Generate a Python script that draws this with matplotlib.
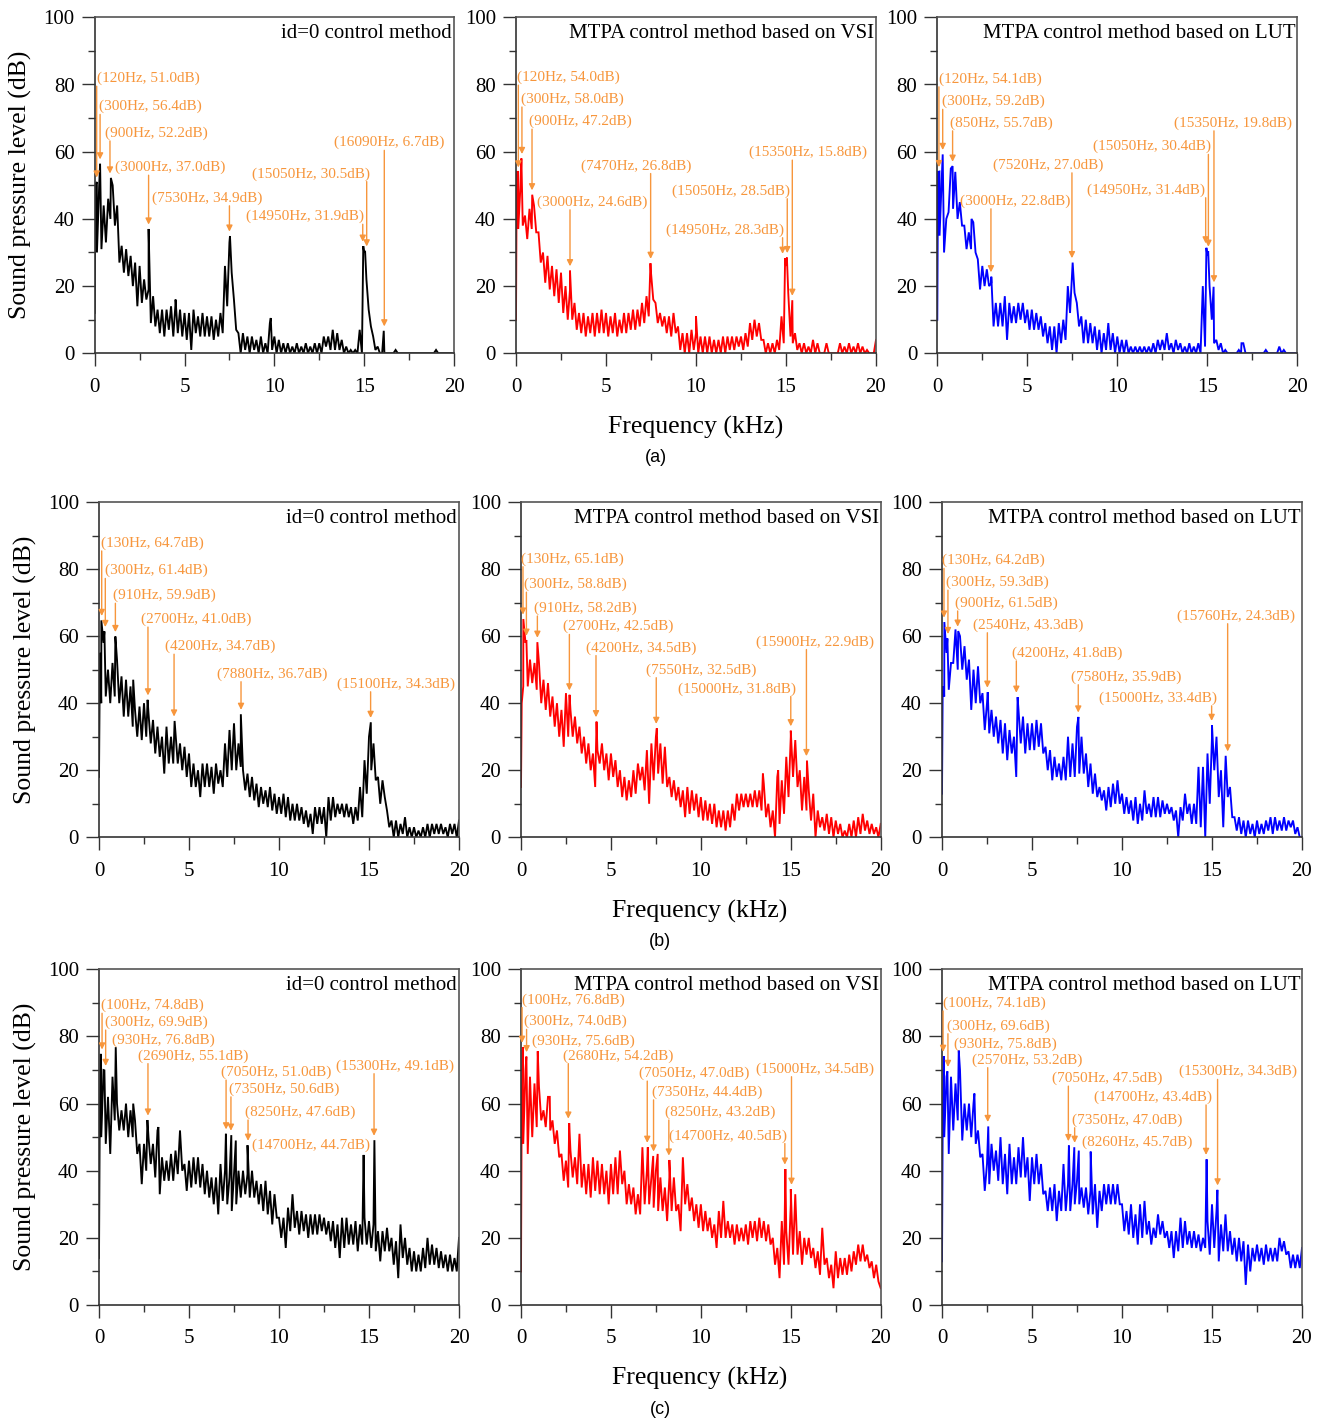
import numpy as np
import matplotlib
matplotlib.use("Agg")
import matplotlib.pyplot as plt
from matplotlib.ticker import MultipleLocator

plt.rcParams['font.family'] = ['Liberation Serif', 'DejaVu Serif']

# ---------------------------------------------------------------- data
# Spectra sampled every 0.25 kHz: "hi" = upper edge of noise band at f,
# "lo" = lower edge at f + 0.125 kHz (values in dB read from the figure)
GRID_STEP_KHZ = 0.25

# ---- row (a)
a1_hi = [12, 50, 44, 46, 50, 44, 32, 31, 29, 27,
         26, 22, 19, 17, 13, 13, 13, 14, 15, 13,
         12, 12, 13, 11, 12, 11, 11, 10, 12, 26,
         33, 16, 6, 6, 5, 5, 4, 5, 3, 9,
         5, 4, 3, 3, 2, 3, 2, 3, 2, 3,
         3, 5, 5, 7, 6, 4, 2, 1, 1, 7,
         30, 13, 5, 2, 0, 0, 0, 1, 0, 0,
         0, 0, 0, 0, 0, 0, 1, 0, 0, 0]
a1_lo = [30, 31, 33, 40, 38, 27, 24, 23, 20, 14,
         15, 16, 9, 8, 6, 5, 7, 5, 6, 5,
         4, 1, 6, 5, 5, 5, 4, 5, 6, 14,
         24, 7, 0, 1, 0, 1, 0, 0, 0, 1,
         0, 0, 0, 0, 0, 0, 0, 0, 0, 0,
         0, 2, 1, 1, 1, 0, 0, 0, 0, 0,
         22, 8, 1, 0, 0, 0, 0, 0, 0, 0,
         0, 0, 0, 0, 0, 0, 0, 0, 0, 0]
a1_peak_hz = [120, 300, 900, 3000, 7530, 15050, 14950, 16090]
a1_peak_db = [51.0, 56.4, 52.2, 37.0, 34.9, 30.5, 31.9, 6.7]
a1_extra_khz = [0.03, 4.5, 9.8]
a1_extra_db = [50, 16, 10.5]

a2_hi = [10, 50, 41, 43, 44, 36, 30, 29, 26, 25,
         24, 20, 19, 15, 12, 12, 11, 12, 12, 13,
         12, 11, 12, 10, 12, 12, 13, 13, 15, 17,
         24, 15, 12, 11, 11, 12, 8, 6, 6, 7,
         6, 5, 5, 5, 4, 4, 5, 5, 5, 5,
         5, 6, 9, 10, 9, 4, 3, 3, 4, 11,
         26, 5, 6, 3, 3, 2, 4, 3, 0, 3,
         0, 0, 3, 2, 3, 2, 3, 2, 1, 0]
a2_lo = [37, 38, 34, 37, 36, 27, 21, 19, 17, 15,
         12, 10, 10, 7, 6, 5, 6, 5, 6, 6,
         5, 6, 5, 6, 6, 7, 7, 8, 9, 11,
         16, 9, 8, 6, 5, 6, 1, 0, 0, 1,
         0, 0, 0, 0, 0, 0, 0, 1, 1, 2,
         1, 2, 4, 5, 4, 0, 0, 0, 1, 3,
         18, 3, 1, 0, 0, 0, 0, 0, 0, 0,
         0, 0, 0, 0, 0, 0, 0, 0, 0, 0]
a2_peak_hz = [120, 300, 900, 3000, 7470, 15350, 15050, 14950]
a2_peak_db = [54.0, 58.0, 47.2, 24.6, 26.8, 15.8, 28.5, 28.3]
a2_extra_khz = [0.04, 10.0, 20.0]
a2_extra_db = [54, 11, 4]

a3_hi = [10, 52, 40, 55, 54, 45, 38, 36, 39, 28,
         26, 25, 21, 15, 15, 17, 15, 14, 15, 15,
         13, 13, 12, 11, 9, 8, 8, 9, 10, 20,
         25, 15, 11, 10, 9, 8, 7, 6, 9, 6,
         5, 4, 4, 2, 2, 2, 2, 2, 3, 4,
         4, 6, 3, 4, 3, 2, 3, 2, 3, 20,
         29, 10, 4, 3, 1, 0, 0, 1, 3, 0,
         0, 0, 0, 1, 0, 0, 2, 1, 0, 0]
a3_lo = [35, 30, 42, 43, 40, 38, 31, 31, 30, 19,
         20, 20, 8, 8, 8, 4, 9, 9, 10, 9,
         7, 7, 7, 5, 3, 1, 0, 3, 4, 12,
         18, 8, 3, 3, 3, 1, 0, 1, 1, 0,
         0, 0, 0, 0, 0, 0, 0, 0, 0, 1,
         1, 1, 0, 1, 0, 0, 0, 0, 0, 2,
         20, 3, 1, 0, 0, 0, 0, 0, 0, 0,
         0, 0, 0, 0, 0, 0, 0, 0, 0, 0]
a3_peak_hz = [120, 300, 850, 3000, 7520, 15350, 15050, 14950]
a3_peak_db = [54.1, 59.2, 55.7, 22.8, 27.0, 19.8, 30.4, 31.4]
a3_extra_khz = [0.04, 1.9, 16.9]
a3_extra_db = [54, 40, 3]

# ---- row (b)
b1_hi = [18, 58, 50, 52, 53, 48, 47, 45, 38, 39,
         40, 37, 35, 33, 30, 33, 30, 31, 28, 27,
         25, 22, 20, 22, 22, 21, 22, 20, 28, 32,
         34, 28, 20, 19, 18, 16, 15, 14, 15, 13,
         12, 13, 12, 10, 10, 9, 8, 7, 9, 9,
         9, 12, 12, 10, 10, 10, 9, 9, 15, 23,
         30, 28, 18, 17, 8, 5, 5, 4, 6, 3,
         3, 2, 3, 4, 4, 4, 4, 3, 4, 4]
b1_lo = [40, 42, 40, 42, 40, 36, 36, 33, 30, 29,
         30, 28, 25, 24, 19, 22, 22, 22, 20, 18,
         15, 15, 12, 15, 15, 13, 16, 15, 18, 20,
         20, 21, 14, 12, 11, 9, 10, 9, 8, 7,
         7, 6, 5, 5, 5, 4, 3, 1, 4, 4,
         0, 5, 6, 7, 6, 6, 4, 5, 6, 13,
         20, 17, 10, 12, 3, 0, 0, 1, 0, 0,
         0, 0, 0, 0, 1, 1, 1, 0, 1, 0]
b1_peak_hz = [130, 300, 910, 2700, 4200, 7880, 15100]
b1_peak_db = [64.7, 61.4, 59.9, 41.0, 34.7, 36.7, 34.3]
b1_extra_khz = [0.05, 1.9, 20.0]
b1_extra_db = [55, 47, 5]

b2_hi = [15, 58, 53, 52, 52, 47, 46, 42, 40, 38,
         43, 38, 36, 33, 30, 28, 25, 26, 28, 25,
         25, 23, 20, 18, 17, 20, 22, 21, 26, 28,
         30, 28, 27, 18, 17, 15, 14, 15, 14, 13,
         12, 11, 10, 10, 8, 8, 8, 10, 13, 13,
         13, 13, 14, 14, 16, 10, 8, 18, 17, 24,
         30, 29, 20, 18, 14, 13, 8, 6, 7, 6,
         5, 4, 2, 4, 5, 6, 7, 5, 4, 3]
b2_lo = [45, 45, 46, 44, 40, 38, 36, 33, 30, 27,
         30, 30, 28, 25, 22, 20, 15, 22, 20, 17,
         18, 15, 12, 11, 12, 13, 17, 14, 10, 17,
         19, 16, 15, 12, 11, 9, 6, 7, 8, 6,
         5, 5, 4, 3, 3, 2, 3, 5, 8, 9,
         9, 9, 9, 8, 6, 3, 0, 4, 7, 12,
         18, 15, 8, 8, 5, 0, 3, 2, 1, 0,
         1, 0, 0, 0, 0, 1, 2, 1, 1, 0]
b2_peak_hz = [130, 300, 910, 2700, 4200, 7550, 15000, 15900]
b2_peak_db = [65.1, 58.8, 58.2, 42.5, 34.5, 32.5, 31.8, 22.9]
b2_extra_khz = [0.04, 13.45, 14.3, 20.0]
b2_extra_db = [40, 19, 20, 4]

b3_hi = [13, 55, 52, 62, 60, 57, 53, 50, 51, 43,
         40, 38, 36, 35, 34, 32, 30, 38, 36, 34,
         34, 35, 34, 27, 26, 24, 22, 24, 30, 28,
         33, 30, 25, 22, 19, 15, 14, 15, 16, 17,
         13, 12, 11, 12, 10, 14, 10, 12, 12, 11,
         10, 9, 8, 9, 13, 10, 10, 21, 21, 25,
         30, 30, 20, 22, 15, 6, 6, 5, 5, 4,
         5, 4, 5, 6, 6, 5, 6, 5, 5, 3]
b3_lo = [42, 44, 52, 50, 50, 47, 38, 40, 40, 32,
         31, 30, 28, 25, 23, 25, 18, 28, 25, 26,
         26, 27, 25, 20, 17, 18, 17, 17, 18, 18,
         19, 19, 15, 13, 12, 11, 8, 9, 10, 10,
         7, 7, 5, 4, 5, 7, 6, 6, 6, 7,
         7, 5, 0, 5, 7, 4, 4, 3, 0, 10,
         20, 12, 3, 12, 6, 2, 1, 0, 1, 0,
         1, 1, 2, 1, 2, 2, 2, 3, 1, 0]
b3_peak_hz = [130, 300, 900, 2540, 4200, 7580, 15000, 15760]
b3_peak_db = [64.2, 59.3, 61.5, 43.3, 41.8, 35.9, 33.4, 24.3]
b3_extra_khz = [0.04, 20.0]
b3_extra_db = [45, 0]

# ---- row (c)
c1_hi = [14, 70, 62, 68, 60, 58, 60, 58, 55, 48,
         48, 50, 48, 52, 44, 43, 45, 46, 52, 42,
         43, 44, 44, 42, 40, 38, 38, 42, 40, 38,
         39, 40, 40, 39, 40, 37, 36, 37, 34, 33,
         26, 26, 29, 33, 28, 28, 27, 27, 27, 27,
         26, 25, 25, 24, 26, 26, 24, 25, 24, 26,
         25, 24, 22, 22, 23, 20, 19, 24, 20, 17,
         16, 15, 17, 20, 18, 17, 16, 15, 15, 14]
c1_lo = [50, 48, 45, 55, 52, 52, 50, 50, 45, 36,
         40, 42, 38, 33, 37, 37, 37, 39, 40, 34,
         35, 36, 35, 33, 32, 30, 27, 31, 30, 28,
         30, 32, 33, 32, 32, 30, 28, 27, 24, 26,
         20, 17, 22, 23, 21, 22, 20, 21, 21, 22,
         21, 19, 17, 14, 17, 18, 18, 16, 18, 18,
         17, 16, 13, 16, 16, 12, 8, 14, 12, 10,
         10, 10, 11, 12, 12, 11, 11, 10, 10, 10]
c1_peak_hz = [100, 300, 930, 2690, 7050, 7350, 8250, 14700, 15300]
c1_peak_db = [74.8, 69.9, 76.8, 55.1, 51.0, 50.6, 47.6, 44.7, 49.1]
c1_extra_khz = [0.04, 1.9, 3.3, 7.6, 20.0]
c1_extra_db = [55, 60, 53, 49, 20]

c2_hi = [10, 70, 68, 66, 65, 58, 62, 55, 52, 45,
         43, 46, 44, 51, 42, 42, 44, 43, 42, 40,
         42, 44, 46, 40, 36, 35, 33, 47, 40, 38,
         40, 38, 35, 38, 38, 30, 44, 36, 32, 30,
         30, 28, 26, 24, 28, 31, 25, 24, 24, 23,
         24, 25, 25, 26, 25, 24, 20, 17, 25, 22,
         30, 33, 22, 20, 20, 17, 16, 23, 14, 12,
         16, 14, 14, 15, 16, 18, 18, 15, 13, 12]
c2_lo = [48, 45, 50, 53, 55, 53, 52, 48, 44, 37,
         35, 38, 36, 35, 33, 32, 34, 33, 33, 30,
         33, 33, 36, 30, 30, 27, 27, 30, 30, 29,
         28, 28, 25, 28, 28, 22, 30, 28, 25, 23,
         22, 22, 20, 17, 20, 20, 20, 18, 19, 19,
         18, 20, 19, 20, 19, 18, 12, 8, 12, 12,
         15, 15, 12, 15, 14, 11, 9, 12, 8, 5,
         8, 9, 9, 10, 12, 13, 13, 11, 8, 7]
c2_peak_hz = [100, 300, 930, 2680, 7050, 7350, 8250, 14700, 15000]
c2_peak_db = [76.8, 74.0, 75.6, 54.2, 47.0, 44.4, 43.2, 40.5, 34.5]
c2_extra_khz = [0.04, 1.6, 7.6, 20.0]
c2_extra_db = [60, 62, 45, 5]

c3_hi = [13, 68, 68, 66, 70, 60, 60, 60, 52, 45,
         42, 48, 46, 50, 45, 48, 44, 47, 50, 44,
         44, 45, 42, 34, 35, 36, 34, 42, 36, 36,
         37, 35, 35, 34, 36, 34, 36, 36, 36, 36,
         30, 28, 30, 27, 30, 31, 25, 23, 27, 25,
         22, 22, 22, 26, 25, 22, 22, 21, 20, 25,
         30, 28, 24, 27, 22, 20, 20, 19, 18, 17,
         18, 17, 18, 17, 17, 20, 19, 16, 15, 15]
c3_lo = [50, 45, 52, 55, 49, 52, 50, 48, 44, 34,
         36, 40, 37, 36, 33, 36, 36, 38, 38, 31,
         36, 36, 33, 28, 28, 25, 28, 28, 28, 30,
         30, 29, 27, 27, 23, 28, 30, 30, 30, 30,
         22, 21, 20, 18, 20, 21, 18, 20, 21, 20,
         17, 14, 16, 17, 18, 17, 17, 16, 17, 15,
         17, 13, 16, 16, 15, 13, 13, 6, 10, 13,
         13, 12, 13, 13, 13, 16, 15, 11, 11, 11]
c3_peak_hz = [100, 300, 930, 2570, 7050, 14700, 15300, 7350, 8260]
c3_peak_db = [74.1, 69.6, 75.8, 53.2, 47.5, 43.4, 34.3, 47.0, 45.7]
c3_extra_khz = [0.04, 1.8, 7.6, 20.0]
c3_extra_db = [55, 63, 46, 17]

panel_titles = ["id=0 control method",
                "MTPA control method based on VSI",
                "MTPA control method based on LUT"]
row_labels = ["(a)", "(b)", "(c)"]
x_label = "Frequency (kHz)"
y_label = "Sound pressure level (dB)"

# ---------------------------------------------------------------- layout
W, H = 1325, 1422
ORANGE = '#F7963C'
LINE_COLORS = ['#000000', '#FF0000', '#0000FF']

# axes boxes in pixels: (left, right, top, bottom)
AX_BOX = [
    [(94.7, 454.0, 17.3, 353.3), (516.0, 876.0, 17.3, 353.3), (937.3, 1297.3, 17.3, 353.3)],
    [(99.0, 459.0, 502.0, 837.3), (521.0, 880.7, 502.0, 837.3), (942.0, 1302.0, 502.0, 837.3)],
    [(99.0, 459.0, 969.3, 1305.0), (521.0, 880.7, 969.3, 1305.0), (942.0, 1302.0, 969.3, 1305.0)],
]
# annotation text anchor (left x in kHz, centre y in dB) and arrow x (kHz) or None
ANN_LAYOUT = {
    'a1': [(0.11, 81.8, 0.11), (0.26, 73.4, 0.30), (0.58, 65.5, 0.85), (1.13, 55.3, 3.0),
           (3.17, 46.2, 7.5), (8.78, 53.4, 15.14), (8.40, 40.7, 14.92), (13.34, 62.7, 16.12)],
    'a2': [(0.07, 82.1, 0.13), (0.26, 75.6, 0.33), (0.72, 69.0, 0.89), (1.19, 45.0, 3.0),
           (3.61, 55.8, 7.48), (12.96, 59.8, 15.35), (8.65, 48.3, 15.07), (8.31, 36.7, 14.81)],
    'a3': [(0.09, 81.6, 0.09), (0.24, 74.9, 0.30), (0.70, 68.5, 0.85), (1.26, 45.3, 2.98),
           (3.11, 56.0, 7.48), (13.15, 68.5, 15.37), (8.63, 61.5, 15.06), (8.33, 48.6, 14.91)],
    'b1': [(0.11, 87.7, 0.15), (0.33, 79.5, 0.35), (0.76, 72.1, 0.91), (2.35, 65.0, 2.72),
           (3.69, 56.9, 4.17), (6.57, 48.7, 7.89), (13.24, 45.7, 15.09)],
    'b2': [(0.02, 83.0, 0.11), (0.19, 75.4, 0.30), (0.72, 68.3, 0.91), (2.31, 62.8, 2.69),
           (3.59, 56.5, 4.17), (6.94, 49.9, 7.52), (8.74, 44.3, 15.0), (13.04, 58.3, 15.87)],
    'b3': [(0.02, 82.5, 0.11), (0.22, 76.0, 0.33), (0.74, 69.8, 0.87), (1.74, 63.3, 2.52),
           (3.87, 54.9, 4.13), (7.15, 47.8, 7.57), (8.72, 41.5, 14.98), (13.04, 66.0, 15.87)],
    'c1': [(0.09, 89.2, 0.17), (0.33, 84.2, 0.37), (0.74, 79.0, None), (2.19, 74.2, 2.72),
           (6.76, 69.3, 7.06), (7.24, 64.3, 7.33), (8.09, 57.4, 8.28), (8.52, 47.7, None),
           (13.17, 71.2, 15.28)],
    'c2': [(0.07, 90.9, 0.06), (0.19, 84.4, 0.31), (0.63, 78.6, None), (2.31, 74.2, 2.63),
           (6.57, 69.0, 7.02), (7.31, 63.4, 7.37), (8.00, 57.4, 8.22), (8.24, 50.4, 14.67),
           (13.09, 70.3, 15.04)],
    'c3': [(0.07, 89.9, 0.06), (0.26, 83.1, 0.33), (0.69, 77.8, None), (1.67, 73.0, 2.54),
           (6.09, 67.5, 7.02), (8.44, 61.9, 14.67), (13.17, 69.5, 15.31), (7.20, 55.1, 7.37),
           (7.76, 48.5, None)],
}

PANELS = {
    'a1': (a1_hi, a1_lo, a1_peak_hz, a1_peak_db, a1_extra_khz, a1_extra_db),
    'a2': (a2_hi, a2_lo, a2_peak_hz, a2_peak_db, a2_extra_khz, a2_extra_db),
    'a3': (a3_hi, a3_lo, a3_peak_hz, a3_peak_db, a3_extra_khz, a3_extra_db),
    'b1': (b1_hi, b1_lo, b1_peak_hz, b1_peak_db, b1_extra_khz, b1_extra_db),
    'b2': (b2_hi, b2_lo, b2_peak_hz, b2_peak_db, b2_extra_khz, b2_extra_db),
    'b3': (b3_hi, b3_lo, b3_peak_hz, b3_peak_db, b3_extra_khz, b3_extra_db),
    'c1': (c1_hi, c1_lo, c1_peak_hz, c1_peak_db, c1_extra_khz, c1_extra_db),
    'c2': (c2_hi, c2_lo, c2_peak_hz, c2_peak_db, c2_extra_khz, c2_extra_db),
    'c3': (c3_hi, c3_lo, c3_peak_hz, c3_peak_db, c3_extra_khz, c3_extra_db),
}


def build_series(hi, lo, peak_hz, peak_db, extra_khz, extra_db):
    f = np.arange(len(hi)) * GRID_STEP_KHZ
    xs = np.concatenate([f, f + GRID_STEP_KHZ / 2, np.array(peak_hz) / 1000.0,
                         np.array(extra_khz, dtype=float)])
    ys = np.concatenate([hi, lo, peak_db, extra_db]).astype(float)
    order = np.argsort(xs, kind='stable')
    return xs[order], ys[order]


fig = plt.figure(figsize=(W / 100, H / 100), dpi=100)
fig.patch.set_facecolor('white')

for r, row in enumerate('abc'):
    for c in range(3):
        key = f"{row}{c + 1}"
        l, rr, t, b = AX_BOX[r][c]
        ax = fig.add_axes([l / W, 1 - b / H, (rr - l) / W, (b - t) / H])
        hi, lo, phz, pdb, ekhz, edb = PANELS[key]
        x, y = build_series(hi, lo, phz, pdb, ekhz, edb)
        ax.plot(x, y, color=LINE_COLORS[c], lw=1.35, solid_joinstyle='miter')
        ax.set_xlim(0, 20)
        ax.set_ylim(0, 100)
        ax.xaxis.set_major_locator(MultipleLocator(5))
        ax.xaxis.set_minor_locator(MultipleLocator(2.5))
        ax.yaxis.set_major_locator(MultipleLocator(20))
        ax.yaxis.set_minor_locator(MultipleLocator(10))
        ax.tick_params(which='major', direction='out', length=9.5, width=1.0,
                       labelsize=15, pad=5, color='#333333')
        ax.tick_params(which='minor', direction='out', length=5, width=1.0,
                       color='#333333')
        ax.tick_params(axis='x', which='major', pad=8)
        ax.tick_params(top=False, right=False, which='both')
        for side in ['left', 'bottom']:
            ax.spines[side].set_color('#333333')
            ax.spines[side].set_linewidth(1.2)
        for side in ['top', 'right']:
            ax.spines[side].set_color('#555555')
            ax.spines[side].set_linewidth(1.2)
        ax.text(0.995, 0.952, panel_titles[c], transform=ax.transAxes,
                ha='right', va='center', fontsize=15, color='black')
        for (tx, ty, axx), hz, db in zip(ANN_LAYOUT[key], phz, pdb):
            ax.text(tx, ty, f"({hz}Hz, {db:.1f}dB)", ha='left', va='center',
                    fontsize=11, color=ORANGE)
            if axx is not None:
                ax.annotate('', xy=(axx, db + 1.3), xytext=(axx, ty - 2.3),
                            arrowprops=dict(arrowstyle='-|>', color=ORANGE, lw=1.0,
                                            mutation_scale=9, shrinkA=0, shrinkB=0))
        if c == 0:
            ycen = (t + b) / 2
            fig.text((20 if r == 0 else 25) / W, 1 - ycen / H, y_label,
                     rotation=90, ha='center', va='center', fontsize=18.5)

XLAB_POS = [(696, 427), (700, 911), (700, 1378)]
ROWLAB_POS = [(656, 457), (660, 941), (660, 1409)]
for r in range(3):
    fig.text(XLAB_POS[r][0] / W, 1 - XLAB_POS[r][1] / H, x_label,
             ha='center', va='center', fontsize=18.5)
    fig.text(ROWLAB_POS[r][0] / W, 1 - ROWLAB_POS[r][1] / H, row_labels[r],
             ha='center', va='center', fontsize=13, family='Liberation Sans')

fig.savefig('out.png', dpi=100, facecolor='white')
